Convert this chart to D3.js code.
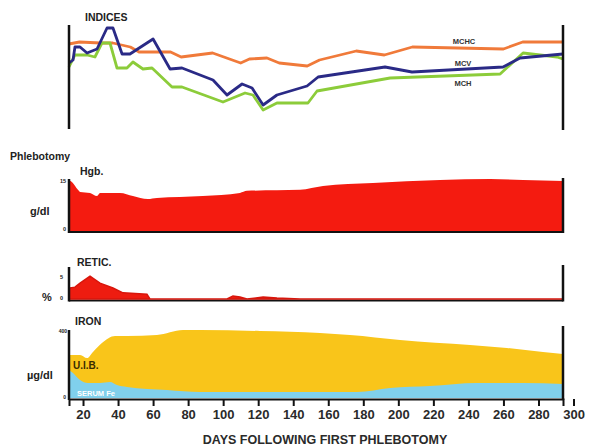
<!DOCTYPE html>
<html>
<head>
<meta charset="utf-8">
<script src="https://cdn.jsdelivr.net/npm/d3@7"></script>
<style>
  body { margin: 0; background: #fff; }
  svg { display: block; font-family: "Liberation Sans", Arial, sans-serif; font-weight: bold; }
</style>
</head>
<body>
<div id="chart"></div>
<script>
// days after first phlebotomy, with values
// indices, relative scale 0-100
const mchcDays = [12, 18, 30, 37, 47, 52, 70, 76, 94, 110, 115, 125, 132, 148, 155, 176, 192, 208, 260, 271, 294];
const mchc     = [84, 86, 85, 85, 81, 76, 76, 71, 75, 65, 69, 70, 65, 62, 68, 77, 73, 81, 79, 86, 86];

const mcvDays = [12, 14.3, 15.4, 18.3, 22.3, 28, 33.7, 37.1, 42.3, 46.8, 60, 69.7, 76.5, 94.2, 102.2, 110.8, 116.5, 122.8, 130.7, 147.9, 154.2, 192.4, 207.8, 259.8, 269.5, 294];
const mcv     = [65, 68, 81, 81, 75, 79, 100, 100, 74, 74, 89, 59, 60, 48, 33, 44, 40, 23, 33, 42, 51, 61, 56, 61, 70, 74];

const mchDays = [12, 15.4, 22.3, 26.8, 30.8, 35.4, 39.4, 45.1, 48.5, 54.2, 59.4, 70.8, 76.5, 99.9, 112.5, 117, 122.8, 130.7, 148.4, 153.6, 195.3, 258.1, 271.2, 290.6, 294];
const mch     = [61, 73, 73, 71, 85, 85, 60, 60, 66, 59, 60, 41, 41, 26, 35, 33, 18, 25, 25, 37, 50, 54, 75, 71, 69];

// hemoglobin, g/dl
const hgbDays = [12, 13.7, 17.1, 18.3, 24, 28, 29.7, 41.1, 48.5, 57, 62.2, 88.4, 109.6, 113.6, 143.9, 157, 185.5, 223.8, 252.4, 271.2, 294];
const hgb     = [15.3, 14.7, 12.4, 11.8, 11.5, 10.6, 11.5, 11.5, 10.6, 9.7, 10.0, 10.6, 11.5, 12.1, 12.4, 13.5, 14.4, 15.3, 15.6, 15.3, 15.0];

// reticulocytes, %
const reticDays = [12, 12.6, 15.4, 18.3, 24, 29.7, 37.1, 42.8, 56.5, 58.2, 102.2, 105.6, 109.6, 113.6, 122.8, 130.7, 143.9, 294];
const retic     = [2.4, 2.5, 2.7, 3.6, 5.2, 3.6, 2.5, 1.4, 1.1, 0, 0, 0.7, 0.45, 0, 0.45, 0.2, 0, 0];

// iron, µg/dl: total binding capacity (serum Fe + U.I.B.) and serum Fe
const tibcDays = [12, 18.3, 22.3, 25.7, 30.8, 38.3, 45.1, 62.2, 77.1, 86.8, 121, 155.3, 172.4, 201, 241, 262, 282.6, 294];
const tibc     = [261, 261, 242, 279, 333, 376, 376, 382, 412, 412, 406, 394, 382, 352, 321, 303, 279, 267];
const feDays = [12, 14.3, 18.3, 22.8, 29.7, 35.4, 39.4, 45.1, 68, 86.8, 144, 176.4, 195.3, 218.1, 244.9, 271.2, 294];
const serumFe = [170, 152, 109, 91, 91, 97, 79, 67, 48, 36, 36, 36, 61, 73, 91, 91, 85];

const dayTicks = d3.range(20, 301, 20);

const W = 590, H = 448;
const svg = d3.select('#chart').append('svg')
    .attr('width', W)
    .attr('height', H);

const x = d3.scaleLinear().domain([12, 294]).range([69, 563]);

const zip = (days, vals) => days.map((d, i) => ({ d, v: vals[i] }));

function label(txt, lx, ly, size, anchor, fill) {
    svg.append('text')
        .attr('x', lx).attr('y', ly)
        .attr('font-size', size)
        .attr('text-anchor', anchor || 'start')
        .attr('fill', fill || '#222')
        .text(txt);
}

function vline(xx, y1, y2) {
    svg.append('line')
        .attr('x1', xx).attr('x2', xx)
        .attr('y1', y1).attr('y2', y2)
        .attr('stroke', '#111').attr('stroke-width', 2.5);
}

function hline(y) {
    svg.append('line')
        .attr('x1', x(12)).attr('x2', x(294))
        .attr('y1', y).attr('y2', y)
        .attr('stroke', '#111').attr('stroke-width', 2);
}

// ---- INDICES ----
const yIdx = d3.scaleLinear().domain([0, 100]).range([128, 28]);
const idxLine = d3.line().x(p => x(p.d)).y(p => yIdx(p.v));

[
    { days: mchcDays, vals: mchc, color: '#f07a3a' },
    { days: mchDays, vals: mch, color: '#8ccc3a' },
    { days: mcvDays, vals: mcv, color: '#2a2a86' }
].forEach(s => {
    svg.append('path')
        .datum(zip(s.days, s.vals))
        .attr('d', idxLine)
        .attr('fill', 'none')
        .attr('stroke', s.color)
        .attr('stroke-width', 2.8)
        .attr('stroke-linejoin', 'round');
});
vline(x(12), 25, 129);
vline(x(294), 25, 130);
label('INDICES', 85, 21, 10.5);
label('MCHC', 464, 44, 7.5, 'middle', '#333');
label('MCV', 463, 66, 7.5, 'middle', '#333');
label('MCH', 463, 86, 7.5, 'middle', '#333');

// ---- HGB ----
const yHgb = d3.scaleLinear().domain([0, 15]).range([232, 181]);
svg.append('path')
    .datum(zip(hgbDays, hgb))
    .attr('d', d3.area().curve(d3.curveMonotoneX)
        .x(p => x(p.d)).y0(yHgb(0)).y1(p => yHgb(p.v)))
    .attr('fill', '#f41b10');
vline(x(12), 179, 233);
vline(x(294), 178, 233);
hline(232);
label('Phlebotomy', 10, 160, 10.5);
label('Hgb.', 80, 175, 10.5);
label('g/dl', 30, 215, 11);
label('15', 66, 183, 5.5, 'end');
label('0', 66, 231, 5.5, 'end');

// ---- RETIC ----
const yRet = d3.scaleLinear().domain([0, 5]).range([299, 277]);
hline(300.5);
svg.append('path')
    .datum(zip(reticDays, retic))
    .attr('d', d3.area().x(p => x(p.d)).y0(yRet(0)).y1(p => yRet(p.v)))
    .attr('fill', '#ee1c10')
    .attr('stroke', '#d8160c')
    .attr('stroke-width', 1.5);
vline(x(12), 267, 301.5);
vline(x(294), 265, 301.5);
label('RETIC.', 77, 266, 10.5);
label('%', 42, 301, 11);
label('5', 63, 279, 5.5, 'end');
label('0', 63, 300, 5.5, 'end');

// ---- IRON ----
const yFe = d3.scaleLinear().domain([0, 400]).range([398, 332]);
svg.append('path')
    .datum(zip(tibcDays, tibc))
    .attr('d', d3.area().curve(d3.curveMonotoneX)
        .x(p => x(p.d)).y0(yFe(0)).y1(p => yFe(p.v)))
    .attr('fill', '#f9c51a');
svg.append('path')
    .datum(zip(feDays, serumFe))
    .attr('d', d3.area().curve(d3.curveMonotoneX)
        .x(p => x(p.d)).y0(yFe(0)).y1(p => yFe(p.v)))
    .attr('fill', '#80d0ec');
vline(x(12), 330, 400);
vline(x(294), 326, 400);
label('IRON', 75, 325, 10.5);
label('µg/dl', 27, 379, 11);
label('U.I.B.', 73, 369, 10, 'start', '#3a2c00');
label('SERUM Fe', 77, 396, 7.5, 'start', '#fff');
label('400', 67, 333, 5, 'end');
label('0', 66, 399, 5, 'end');

// x axis
const xAxis = svg.append('g')
    .attr('transform', 'translate(0,399)')
    .call(d3.axisBottom(x).tickValues(dayTicks).tickSize(7).tickPadding(4));
xAxis.select('.domain').attr('stroke', '#111').attr('stroke-width', 2);
xAxis.selectAll('.tick line').attr('stroke', '#111').attr('stroke-width', 2);
xAxis.selectAll('.tick text')
    .attr('font-size', 13)
    .attr('font-weight', 'bold')
    .attr('font-family', '"Liberation Sans", Arial, sans-serif')
    .attr('fill', '#2a2a2a');

label('DAYS FOLLOWING FIRST PHLEBOTOMY', 325, 444, 12.5, 'middle', '#2a2a2a');
</script>
</body>
</html>
